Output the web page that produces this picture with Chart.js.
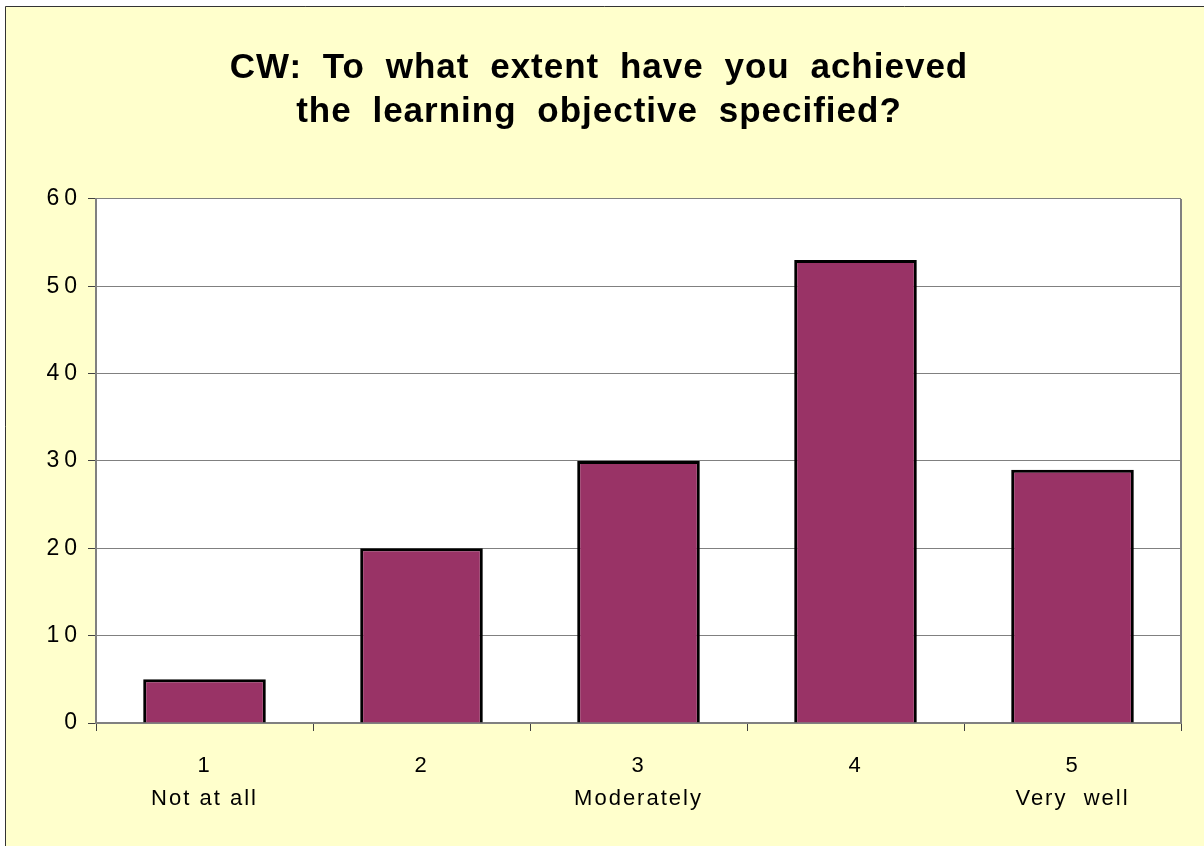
<!DOCTYPE html>
<html>
<head>
<meta charset="utf-8">
<script src="https://cdn.jsdelivr.net/npm/chart.js@4.4.0/dist/chart.umd.min.js"></script>
<style>
  html, body { margin: 0; padding: 0; background: #ffffff; }
  #wrap { width: 1204px; height: 846px; }
</style>
</head>
<body>
<div id="wrap"><canvas id="myChart" width="1204" height="846"></canvas></div>
<script>
// datos del grafico
var titulo = ['CW: To what extent have you achieved', 'the learning objective specified?'];
var categorias = [['1', 'Not at all'], ['2'], ['3', 'Moderately'], ['4'], ['5', 'Very  well']];
var respuestas = [5, 20, 30, 53, 29];
var ticksY = [0, 10, 20, 30, 40, 50, 60];

// fondo amarillo, marco y area blanca
var fondo = {
  id: 'fondo',
  beforeDraw: function(chart) {
    var ctx = chart.ctx;
    var a = chart.chartArea;
    ctx.save();
    ctx.fillStyle = '#ffffff';
    ctx.fillRect(0, 0, chart.width, chart.height);
    ctx.fillStyle = '#ffffcc';
    ctx.fillRect(5, 6, chart.width - 5, chart.height - 6);
    ctx.strokeStyle = '#333333';
    ctx.lineWidth = 1;
    ctx.beginPath();
    ctx.moveTo(5.5, chart.height);
    ctx.lineTo(5.5, 6.5);
    ctx.lineTo(chart.width, 6.5);
    ctx.stroke();
    ctx.fillStyle = '#ffffff';
    ctx.fillRect(a.left, a.top, a.right - a.left, a.bottom - a.top);
    ctx.restore();
  },
  beforeDatasetsDraw: function(chart) {
    var ctx = chart.ctx;
    var a = chart.chartArea;
    ctx.save();
    ctx.strokeStyle = '#808080';
    ctx.lineWidth = 2;
    ctx.beginPath();
    ctx.moveTo(a.right, a.top);
    ctx.lineTo(a.right, a.bottom);
    ctx.stroke();
    ctx.restore();
  },
  afterLayout: function(chart) {
    // espaciado de letras como en el original
    var envolver = function(obj, fn, letras, palabras) {
      if (obj['_env_' + fn]) return;
      var orig = obj[fn];
      obj[fn] = function() {
        var ctx = chart.ctx;
        ctx.save();
        ctx.letterSpacing = letras;
        ctx.wordSpacing = palabras;
        orig.apply(this, arguments);
        ctx.restore();
      };
      obj['_env_' + fn] = true;
    };
    envolver(chart.scales.y, 'drawLabels', '5px', '0px');
    envolver(chart.scales.x, 'drawLabels', '2px', '0px');
    if (chart.titleBlock) envolver(chart.titleBlock, 'draw', '1px', '10px');
  }
};

var graficar = document.getElementById('myChart');
var grafico = new Chart(graficar, {
  type: 'bar',
  data: {
    labels: categorias,
    datasets: [{
      label: 'CW',
      data: respuestas,
      backgroundColor: '#993366',
      borderColor: '#000000',
      borderWidth: 3,
      barPercentage: 0.565,
      categoryPercentage: 1.0
    }]
  },
  options: {
    responsive: false,
    animation: false,
    layout: { padding: { left: 17, right: 23, top: 0, bottom: 0 } },
    plugins: {
      legend: { display: false },
      tooltip: { enabled: false },
      title: {
        display: true,
        text: titulo,
        color: '#000000',
        font: { family: 'Arial, "Liberation Sans", sans-serif', size: 35, weight: 'bold', lineHeight: 1.257 },
        padding: { top: 46, bottom: 65 }
      }
    },
    scales: {
      x: {
        grid: {
          offset: true,
          drawOnChartArea: false,
          color: '#404040',
          tickLength: 8,
          lineWidth: 1
        },
        border: { color: '#808080', width: 2 },
        ticks: {
          color: '#000000',
          font: { family: 'Arial, "Liberation Sans", sans-serif', size: 22, lineHeight: 1.5 },
          padding: 18,
          maxRotation: 0
        },
        afterFit: function(scale) { scale.height = 123; }
      },
      y: {
        min: 0,
        max: 60,
        afterBuildTicks: function(scale) {
          scale.ticks = ticksY.map(function(v) { return { value: v }; });
        },
        grid: {
          color: '#808080',
          tickColor: '#404040',
          tickLength: 8,
          lineWidth: 1
        },
        border: { color: '#808080', width: 2 },
        ticks: {
          color: '#000000',
          font: { family: 'Arial, "Liberation Sans", sans-serif', size: 23 },
          padding: 6
        },
        afterFit: function(scale) { scale.width = 79; }
      }
    }
  },
  plugins: [fondo]
});
</script>
</body>
</html>
